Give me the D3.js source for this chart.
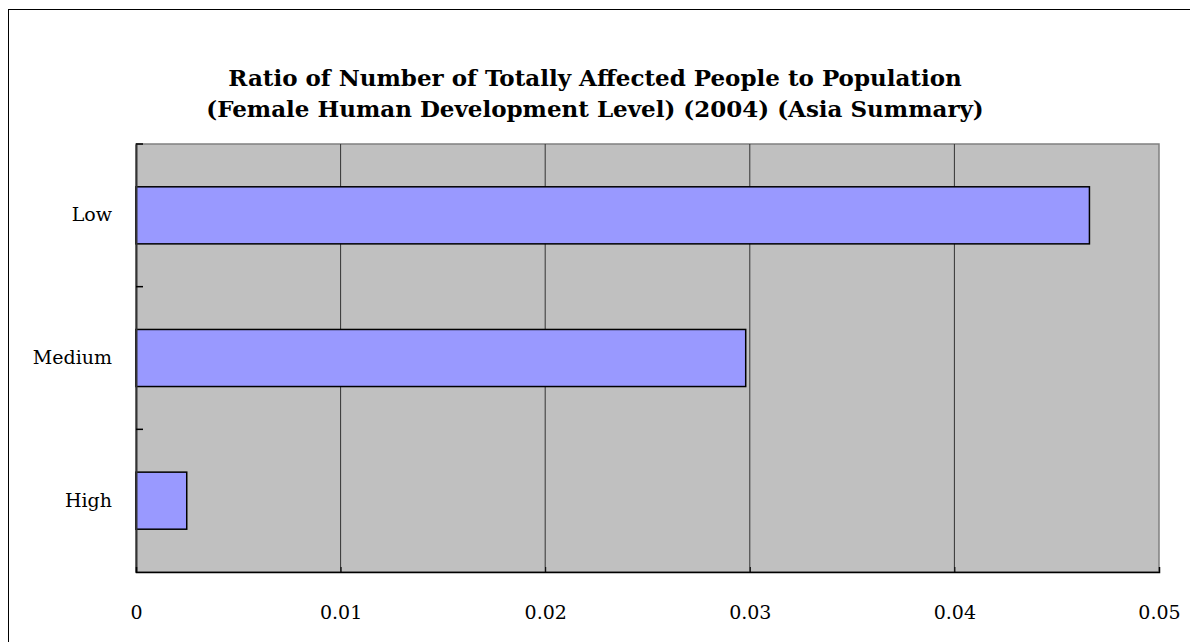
<!DOCTYPE html>
<html><head><meta charset="utf-8">
<script src="https://cdn.jsdelivr.net/npm/d3@7"></script>
<style>body{margin:0;background:#fff}svg{display:block}</style>
</head><body><svg id="c" width="1190" height="642"></svg>
<script>
const categories = ["Low", "Medium", "High"];
const values = [0.0466, 0.0298, 0.00248];
const xTicks = [0, 0.01, 0.02, 0.03, 0.04, 0.05];
const xTickLabels = ["0", "0.01", "0.02", "0.03", "0.04", "0.05"];
const titleLines = ["Ratio of Number of Totally Affected People to Population", "(Female Human Development Level) (2004) (Asia Summary)"];

const svg = d3.select("#c");
const serif = "'DejaVu Serif', 'Liberation Serif', serif";
svg.append("rect").attr("x", 8.5).attr("y", 9.5).attr("width", 1200).attr("height", 660)
  .attr("fill", "#fff").attr("stroke", "#000").attr("stroke-width", 1);

const L = 136, R = 1159, T = 144, B = 572;
const x = d3.scaleLinear().domain([0, 0.05]).range([L, R]);
const y = d3.scaleBand().domain(categories).range([T, B]).paddingInner(0.6).paddingOuter(0.3);
const yb = d3.scaleBand().domain(categories).range([T, B]);

svg.append("rect").attr("x", L).attr("y", T).attr("width", R - L).attr("height", B - T)
  .attr("fill", "#c0c0c0").attr("stroke", "#808080").attr("stroke-width", 1.5);

svg.append("g").selectAll("line").data(xTicks.slice(1, -1)).join("line")
  .attr("x1", d => x(d)).attr("x2", d => x(d)).attr("y1", T).attr("y2", B)
  .attr("stroke", "#333").attr("stroke-width", 1);

svg.append("g").selectAll("rect").data(values).join("rect")
  .attr("x", x(0)).attr("y", (d, i) => y(categories[i]))
  .attr("width", d => x(d) - x(0)).attr("height", y.bandwidth())
  .attr("fill", "#9999ff").attr("stroke", "#000").attr("stroke-width", 1.5);

// axes
const yAxis = d3.axisLeft(yb).tickSize(0).tickPadding(24);
const yg = svg.append("g").attr("transform", `translate(${L},0)`).call(yAxis);
yg.select(".domain").attr("stroke", "#333").attr("stroke-width", 2);
yg.selectAll("text").attr("font-family", serif).attr("font-size", 19).attr("fill", "#000");
// category boundary ticks (inward)
const bounds = [T].concat(categories.map(c => yb(c) + yb.bandwidth()));
svg.append("g").selectAll("line").data(bounds.slice(0, -1)).join("line")
  .attr("x1", L).attr("x2", L + 7).attr("y1", d => d).attr("y2", d => d)
  .attr("stroke", "#000").attr("stroke-width", 1.5);

const xAxis = d3.axisBottom(x).tickValues(xTicks).tickFormat((d, i) => xTickLabels[i]).tickSize(-5).tickPadding(34);
const xg = svg.append("g").attr("transform", `translate(0,${B})`).call(xAxis);
xg.select(".domain").attr("stroke", "#000").attr("stroke-width", 1.5);
xg.selectAll("line").attr("stroke", "#000");
xg.selectAll("text").attr("font-family", serif).attr("font-size", 19).attr("fill", "#000");

svg.append("g").selectAll("text").data(titleLines).join("text")
  .attr("x", 595).attr("y", (d, i) => 86 + i * 31).attr("text-anchor", "middle")
  .attr("font-family", serif).attr("font-weight", "bold").attr("font-size", 23)
  .text(d => d);
</script></body></html>
